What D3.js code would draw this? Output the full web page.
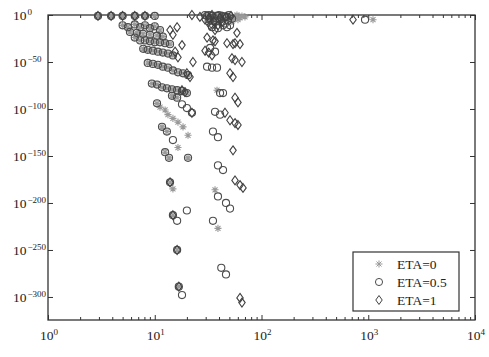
<!DOCTYPE html>
<html>
<head>
<meta charset="utf-8">
<script src="https://cdn.jsdelivr.net/npm/d3@7"></script>
<style>
  body { margin: 0; background: #fff; }
  svg { display: block; }
</style>
</head>
<body>
<div id="chart"></div>
<script>
const width = 489
const height = 357
const margin = {top: 15, right: 14, bottom: 37, left: 48}

// axis setup (y is stored as log10 of the value, so 1e-300 -> -300)
const xDomain = [1, 1e4]
const yDomain = [-324.5, 0]
const xMajor = [1, 10, 100, 1000, 10000]
const yMajor = [0, -50, -100, -150, -200, -250, -300]
const seriesNames = ['ETA=0', 'ETA=0.5', 'ETA=1']

// ETA=0 (asterisk)
const eta0X = [
  2.94, 3.9, 5.0, 6.5, 8.1, 10.0,
  5.0, 5.6, 6.5, 7.3, 8.1, 9.0, 10.0, 11.2,
  5.86, 6.8, 7.76, 9.02, 10.5, 11.9,
  6.5, 7.3, 8.1, 9.0, 10.0, 11.2, 12.5, 13.9,
  7.8, 8.6, 9.6, 10.7, 11.9, 13.3, 14.8,
  8.6, 9.6, 10.7, 11.9, 13.3, 14.8, 16.5, 18.4, 20.5,
  9.4, 10.5, 11.7, 13.0, 14.5, 16.2, 18.0, 20.0,
  10.5, 14.5, 16.2, 11.7, 13.0, 12.5, 13.6, 20.5, 13.9, 14.8, 16.2, 16.8,
  11.2, 12.5, 13.3, 14.8, 16.5, 18.4, 20.5, 16.5, 14.8,
  36.7, 42.7, 50.7, 56.5, 62.9, 70, 60.2, 52.9, 45.5, 33.0,
  30.9, 34.4, 39.1, 47.5, 58.9, 65.6, 54.1,
  38.3, 36.7, 39.1, 1108
]
const eta0LogY = [
  -1, -1, -1, -1, -1, -1,
  -11, -13, -10, -13, -11, -14, -12, -16,
  -18, -19, -20, -21, -22, -23,
  -24, -27, -27, -28, -29, -29, -30, -31,
  -36, -37, -38, -39, -40, -41, -43,
  -51, -52, -53, -55, -56, -59, -61, -62, -64,
  -73, -74, -77, -78, -79, -80, -81, -83,
  -94, -86, -88, -119, -124, -146, -152, -152, -178, -213, -250, -289,
  -98, -101, -106, -110, -114, -119, -128, -141, -185,
  0, 0, -1, -2, -3, -2, -5, -7, -4, -3,
  -1, -5, -2, 0, 0, -1, -3,
  -80, -186, -227, -5
]

// ETA=0.5 (circle)
const eta05X = [
  2.94, 3.9, 5.0, 6.5, 8.1, 10.0,
  5.0, 5.6, 6.5, 7.3, 8.1, 9.0, 10.0, 11.2,
  5.86, 6.8, 7.76, 9.02, 10.5, 11.9,
  6.5, 7.3, 8.1, 9.0, 10.0, 11.2, 12.5, 13.9,
  7.8, 8.6, 9.6, 10.7, 11.9, 13.3, 14.8,
  8.6, 9.6, 10.7, 11.9, 13.3, 14.8, 16.5, 18.4, 20.5,
  9.4, 10.5, 11.7, 13.0, 14.5, 16.2, 18.0, 20.0,
  10.5, 14.5, 16.2, 11.7, 13.0, 12.5, 13.6, 20.5, 13.9, 14.8, 16.2, 16.8,
  18.0, 20.0, 22.3, 14.8, 16.2, 18.0, 20.0,
  30.9, 34.4, 38.3, 42.7, 47.5, 33.0, 36.7, 40.9, 45.5, 50.7, 34.4, 39.1, 47.5,
  29.6, 32.2, 35.8, 39.9, 44.5, 49.6, 53.0, 32.0, 35.1, 43.6, 38.3, 48.5,
  33.0, 36.7, 30.9, 34.4, 38.3, 40.9, 43.6, 36.7, 40.9, 35.1, 39.1,
  39.1, 43.6, 39.1, 46.5, 50.7, 35.1, 42.0, 46.5, 933
]
const eta05LogY = [
  -1, -1, -1, -1, -1, -1,
  -11, -13, -10, -13, -11, -14, -12, -16,
  -18, -19, -20, -21, -22, -23,
  -24, -27, -27, -28, -29, -29, -30, -31,
  -36, -37, -38, -39, -40, -41, -43,
  -51, -52, -53, -55, -56, -59, -61, -62, -64,
  -73, -74, -77, -78, -79, -80, -81, -83,
  -94, -86, -88, -119, -124, -146, -152, -152, -178, -213, -250, -289,
  -95, -99, -104, -133, -219, -298, -208,
  -1, -1, -1, -1, -2, -5, -7, -5, -9, -11, -13, -14, -13,
  0, 0, -3, 0, -2, 0, -4, -7, -10, -11, -6, -6,
  -35, -39, -55, -56, -56, -83, -83, -103, -106, -124, -130,
  -160, -165, -193, -200, -206, -219, -269, -276, -5
]

// ETA=1 (diamond)
const eta1X = [
  2.94, 3.9, 5.0, 6.5, 8.1,
  13.9, 14.8, 16.2, 16.8,
  13.9, 16.2, 14.8, 18.0, 15.5, 16.5, 22.8, 20.0, 21.4, 18.0, 19.2, 22.3,
  22.3, 26.5, 29.6, 33.0, 40.9, 36.7,
  32.2, 35.8, 42.7, 46.5, 39.1, 34.4, 51.8,
  30.9, 35.1, 36.7, 56.5, 58.9, 47.5, 54.1, 62.9, 29.6, 32.0, 34.4, 52.9, 56.5, 65.6,
  50.7, 54.1, 56.5, 60.2, 45.5, 50.7, 56.5, 60.2, 54.1,
  56.5, 62.9, 67.1, 62.9, 65.6, 720
]
const eta1LogY = [
  -1, -1, -1, -1, -1,
  -178, -213, -250, -289,
  -16, -13, -21, -32, -39, -45, -50, -62, -66, -80, -82, -104,
  0, -2, -5, -11, -3, -16,
  -3, -7, -7, -2, -11, 0, -1,
  -24, -27, -28, -30, -19, -30, -31, -31, -38, -40, -43, -46, -48, -50,
  -62, -66, -88, -93, -104, -112, -115, -117, -144,
  -176, -181, -184, -301, -306, -5
]

const series = [
  {name: seriesNames[0], xs: eta0X, ys: eta0LogY, marker: 'asterisk', color: '#999999'},
  {name: seriesNames[1], xs: eta05X, ys: eta05LogY, marker: 'circle', color: '#4d4d4d'},
  {name: seriesNames[2], xs: eta1X, ys: eta1LogY, marker: 'diamond', color: '#404040'}
]

// marker shapes as d3 symbol types
const asterisk = {
  draw(ctx, size) {
    const r = Math.sqrt(size) / 2
    const d = r * Math.SQRT1_2
    ctx.moveTo(-r, 0); ctx.lineTo(r, 0)
    ctx.moveTo(0, -r); ctx.lineTo(0, r)
    ctx.moveTo(-d, -d); ctx.lineTo(d, d)
    ctx.moveTo(-d, d); ctx.lineTo(d, -d)
  }
}
const diamond = {
  draw(ctx, size) {
    const h = Math.sqrt(size) / 2
    const w = h * 0.72
    ctx.moveTo(0, -h); ctx.lineTo(w, 0); ctx.lineTo(0, h); ctx.lineTo(-w, 0); ctx.closePath()
  }
}
const symbols = {
  asterisk: d3.symbol(asterisk, 50),
  circle: d3.symbol(d3.symbolCircle, 40),
  diamond: d3.symbol(diamond, 80)
}

const svg = d3.select('#chart').append('svg')
  .attr('width', width)
  .attr('height', height)
  .style('font-family', '"Liberation Serif", "Times New Roman", serif')

const x = d3.scaleLog().domain(xDomain).range([margin.left, width - margin.right])
const y = d3.scaleLinear().domain(yDomain).range([height - margin.bottom, margin.top])

const minorX = []
for (let d = 0; d < 4; d++) {
  for (let k = 2; k < 10; k++) minorX.push(k * Math.pow(10, d))
}

const axisColor = '#333'
function styleAxis(g) {
  g.select('.domain').remove()
  g.selectAll('line').attr('stroke', axisColor).attr('stroke-width', 1)
  g.selectAll('text').remove()
}

// ticks (pointing inward on all four sides)
svg.append('g').attr('transform', `translate(0,${y.range()[0]})`)
  .call(d3.axisBottom(x).tickValues(xMajor).tickSize(-5).tickFormat(''))
  .call(styleAxis)
svg.append('g').attr('transform', `translate(0,${y.range()[0]})`)
  .call(d3.axisBottom(x).tickValues(minorX).tickSize(-3).tickFormat(''))
  .call(styleAxis)
svg.append('g').attr('transform', `translate(0,${y.range()[1]})`)
  .call(d3.axisTop(x).tickValues(xMajor).tickSize(-5).tickFormat(''))
  .call(styleAxis)
svg.append('g').attr('transform', `translate(0,${y.range()[1]})`)
  .call(d3.axisTop(x).tickValues(minorX).tickSize(-3).tickFormat(''))
  .call(styleAxis)
svg.append('g').attr('transform', `translate(${x.range()[0]},0)`)
  .call(d3.axisLeft(y).tickValues(yMajor).tickSize(-5).tickFormat(''))
  .call(styleAxis)
svg.append('g').attr('transform', `translate(${x.range()[1]},0)`)
  .call(d3.axisRight(y).tickValues(yMajor).tickSize(-5).tickFormat(''))
  .call(styleAxis)

// frame
svg.append('rect')
  .attr('x', x.range()[0]).attr('y', y.range()[1])
  .attr('width', x.range()[1] - x.range()[0])
  .attr('height', y.range()[0] - y.range()[1])
  .attr('fill', 'none')
  .attr('stroke', axisColor)
  .attr('stroke-width', 1.3)

const supText = v => String(v).replace('-', '\u2212')

// x tick labels 10^k
const xLab = svg.append('g').selectAll('text').data(xMajor).join('text')
  .attr('x', d => x(d) + 1)
  .attr('y', 340)
  .attr('text-anchor', 'middle')
  .attr('fill', '#222')
xLab.append('tspan').attr('font-size', 13.5).text('10')
xLab.append('tspan').attr('font-size', 9).attr('dy', -5).text(d => supText(Math.round(Math.log10(d))))

// y tick labels 10^k
const yLab = svg.append('g').selectAll('text').data(yMajor).join('text')
  .attr('x', 13)
  .attr('y', d => y(d) + 5)
  .attr('fill', '#222')
yLab.append('tspan').attr('font-size', 13.5).text('10')
yLab.append('tspan').attr('font-size', 9).attr('dy', -5).attr('dx', 1).text(d => supText(d))

// points
const plot = svg.append('g')
series.forEach(s => {
  const pts = s.xs.map((v, i) => [v, s.ys[i]])
  plot.append('g').selectAll('path').data(pts).join('path')
    .attr('transform', d => `translate(${x(d[0])},${y(d[1])})`)
    .attr('d', symbols[s.marker]())
    .attr('fill', 'none')
    .attr('stroke', s.color)
    .attr('stroke-width', 1.1)
})

// legend
const legend = svg.append('g')
legend.append('rect')
  .attr('x', 353).attr('y', 252).attr('width', 106).attr('height', 59)
  .attr('fill', '#fff').attr('stroke', axisColor).attr('stroke-width', 1.2)
series.forEach((s, i) => {
  const ly = 264 + i * 18
  legend.append('path')
    .attr('transform', `translate(379,${ly})`)
    .attr('d', symbols[s.marker]())
    .attr('fill', 'none')
    .attr('stroke', s.color)
  legend.append('text')
    .attr('x', 397).attr('y', ly + 4.5)
    .attr('font-size', 13.5)
    .attr('fill', '#222')
    .text(s.name)
})
</script>
</body>
</html>
